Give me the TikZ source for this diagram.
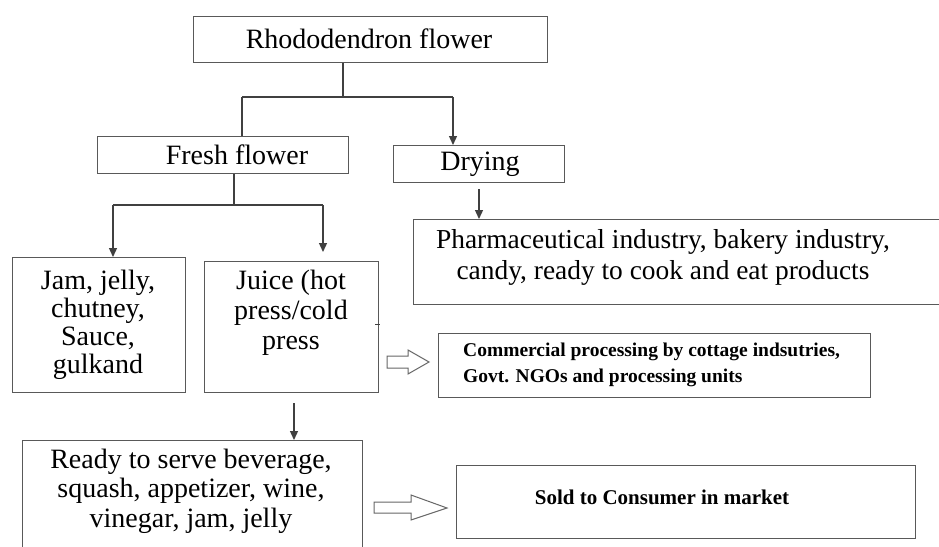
\documentclass[tikz,border=0pt]{standalone}
\usepackage{fontspec}
\setmainfont{Liberation Serif}
\usetikzlibrary{arrows.meta}
\begin{document}
\begin{tikzpicture}[x=1pt,y=-1pt,
  box/.style={draw=black!65, line width=1.4pt, inner sep=0pt, anchor=north west},
  txt/.style={align=center, font=\fontsize{28}{29.5}\selectfont, inner sep=0pt},
  btxt/.style={align=left, font=\fontsize{19.5}{26}\selectfont\bfseries, inner sep=0pt},
  conn/.style={draw=black!75, line width=1.3pt},
  arr/.style={conn, -{Triangle[width=8pt,length=9pt]}},
  hollow/.style={draw=black!60, line width=1pt, fill=white, line join=miter}]
\useasboundingbox (0,0) rectangle (939,546);
\fill[white] (0,0) rectangle (939,546);

% boxes
\node[box, minimum width=354, minimum height=46] (rf) at (193,16) {};
\node[box, minimum width=251, minimum height=37] (ff) at (97,136) {};
\node[box, minimum width=171, minimum height=37] (dry) at (393,145) {};
\node[box, minimum width=540, minimum height=85] (ph) at (413,219) {};
\node[box, minimum width=173, minimum height=135] (jam) at (12,257) {};
\node[box, minimum width=174, minimum height=131] (juice) at (204,261) {};
\node[box, minimum width=432, minimum height=64] (com) at (438,333) {};
\node[box, minimum width=340, minimum height=130] (rd) at (22,440) {};
\node[box, minimum width=459, minimum height=73] (sold) at (456,465) {};

% texts
\node[txt] (rfT) at (369,39) {Rhododendron flower};
\node[txt] (ffT) at (237,155) {Fresh flower};
\node[txt] (dryT) at (480,164) {Drying};
\node[txt, font=\fontsize{27.4}{31}\selectfont] (phT) at (663,257) {Pharmaceutical industry, bakery industry,\\candy, ready to cook and eat products};
\node[txt, font=\fontsize{28}{28}\selectfont] (jamT) at (98,325) {Jam, jelly,\\chutney,\\Sauce,\\gulkand};
\node[txt, font=\fontsize{28}{30}\selectfont] (juiceT) at (291,313) {Juice (hot\\press/cold\\press};
\node[btxt, anchor=west] (comT) at (463,365) {Commercial processing by cottage indsutries,\\Govt. NGOs and processing units};
\node[txt] (rdT) at (191,491) {Ready to serve beverage,\\squash, appetizer, wine,\\vinegar, jam, jelly};
\node[btxt, font=\fontsize{21}{24}\selectfont\bfseries] (soldT) at (662,497) {Sold to Consumer in market};

% connectors
\coordinate (bM) at (343,97);
\coordinate (bL) at (242,97);
\coordinate (bR) at (453,97);
\draw[conn] (rf.south -| bM) -- (bM);
\draw[conn] (bL) -- (bR);
\draw[conn] (bL) -- (bL |- ff.north);
\draw[arr] (bR) -- (bR |- dry.north);

\coordinate (fM) at (234,205);
\coordinate (fL) at (113,205);
\coordinate (fR) at (323,205);
\draw[conn] (ff.south -| fM) -- (fM);
\draw[conn] (fL) -- (fR);
\draw[arr] (fL) -- (fL |- jam.north);
\draw[arr, shorten >=9pt] (fR) -- (fR |- juice.north);

\coordinate (dA) at (479,189);
\draw[arr] (dA) -- (dA |- ph.north);
\coordinate (jA) at (294,403);
\draw[arr] (jA) -- (jA |- rd.north);

% small tick on juice box
\draw[conn, line width=1pt] (375,324) -- (380,324);

% hollow arrows
\draw[hollow] (387,356) -- (408,356) -- (408,350) -- (429,362) -- (408,374) -- (408,368) -- (387,368) -- cycle;
\draw[hollow] (374,502) -- (411,502) -- (411,495) -- (447,508) -- (411,520) -- (411,513) -- (374,513) -- cycle;
\end{tikzpicture}
\end{document}
